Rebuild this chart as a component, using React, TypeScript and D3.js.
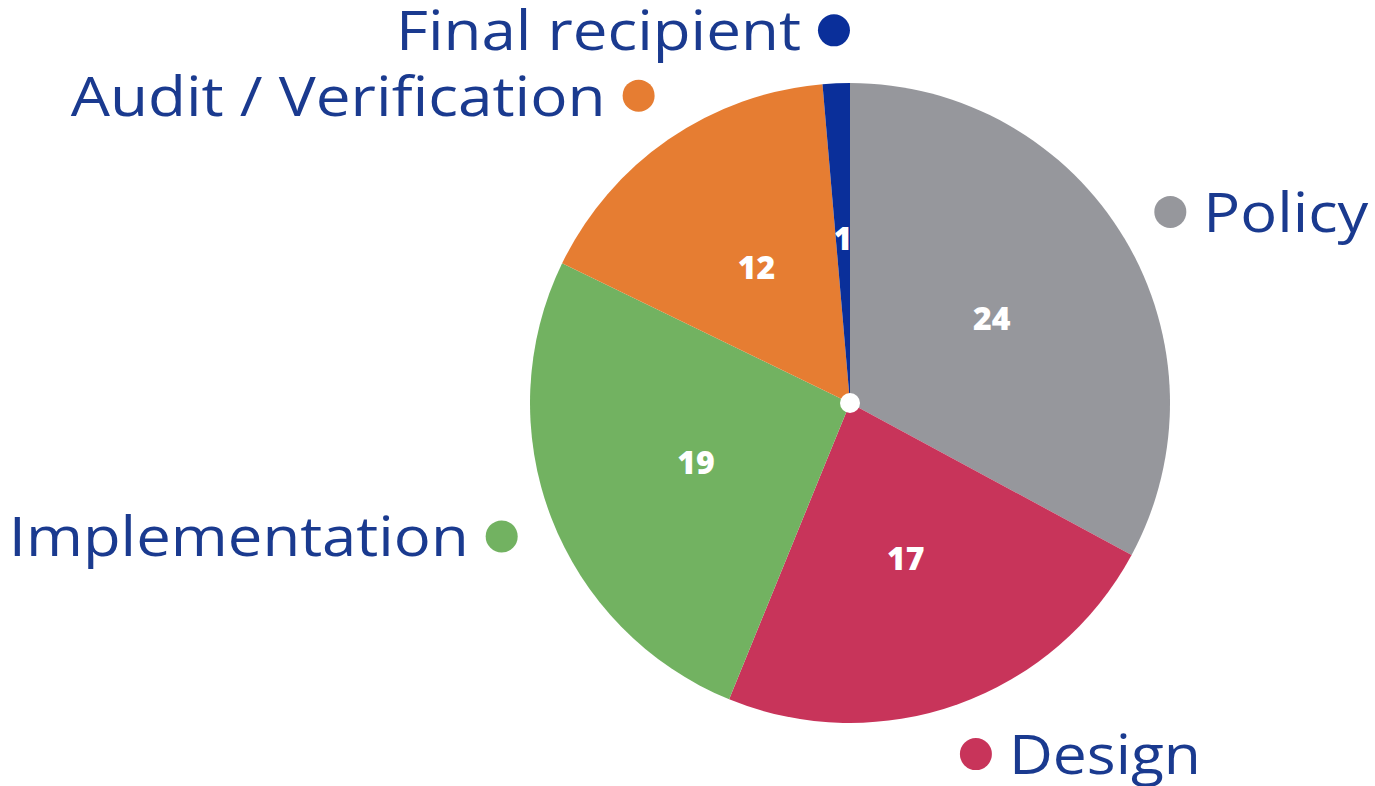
import React from "react";
import * as d3 from "d3";

const categories = ["Policy", "Design", "Implementation", "Audit / Verification", "Final recipient"];
const values = [24, 17, 19, 12, 1];
const colors = ["#96979c", "#c8345a", "#72b261", "#e67d32", "#0a2f9a"];
const labelWidths = [165, 192, 460, 535, 405];

export default function App() {
  const W = 1375, H = 786;
  const cx = 850, cy = 403, R = 320;
  const pie = d3.pie<number>().sort(null).value((d) => d);
  const arcs = pie(values);
  const arc = d3.arc<d3.PieArcDatum<number>>().innerRadius(0).outerRadius(R);
  const labelArc = d3.arc<d3.PieArcDatum<number>>().innerRadius(165).outerRadius(165);
  const font = "'Open Sans', 'Noto Sans', sans-serif";
  return (
    <svg width={W} height={H} style={{ position: "absolute", left: 0, top: 0, background: "#fff" }}>
      <defs>
        {arcs.map((a, i) => (
          <clipPath id={`clip${i}`} key={i}>
            <path d={arc(a) || ""} />
          </clipPath>
        ))}
      </defs>
      <g transform={`translate(${cx},${cy})`}>
        {arcs.map((a, i) => (
          <path key={i} d={arc(a) || ""} fill={colors[i]} />
        ))}
        {arcs.map((a, i) => {
          const [x, y] = labelArc.centroid(a);
          return (
            <g key={"v" + i} clipPath={`url(#clip${i})`}>
              <text
                x={x}
                y={y}
                dy="0.36em"
                textAnchor="middle"
                fill="#fff"
                fontFamily={font}
                fontWeight={800}
                fontSize={32}
              >
                {values[i]}
              </text>
            </g>
          );
        })}
        <circle r={10} fill="#fff" />
        {arcs.map((a, i) => {
          const mid = (a.startAngle + a.endAngle) / 2;
          const rr = 373;
          const x = rr * Math.sin(mid);
          const y = -rr * Math.cos(mid);
          const right = x > 0;
          return (
            <g key={"l" + i}>
              <circle cx={x} cy={y} r={16} fill={colors[i]} />
              <text
                x={right ? x + 33 : x - 33}
                y={y + 20}
                textAnchor={right ? "start" : "end"}
                fill="#1a3a8f"
                fontFamily={font}
                fontSize={54}
                textLength={labelWidths[i]}
                lengthAdjust="spacingAndGlyphs"
              >
                {categories[i]}
              </text>
            </g>
          );
        })}
      </g>
    </svg>
  );
}
